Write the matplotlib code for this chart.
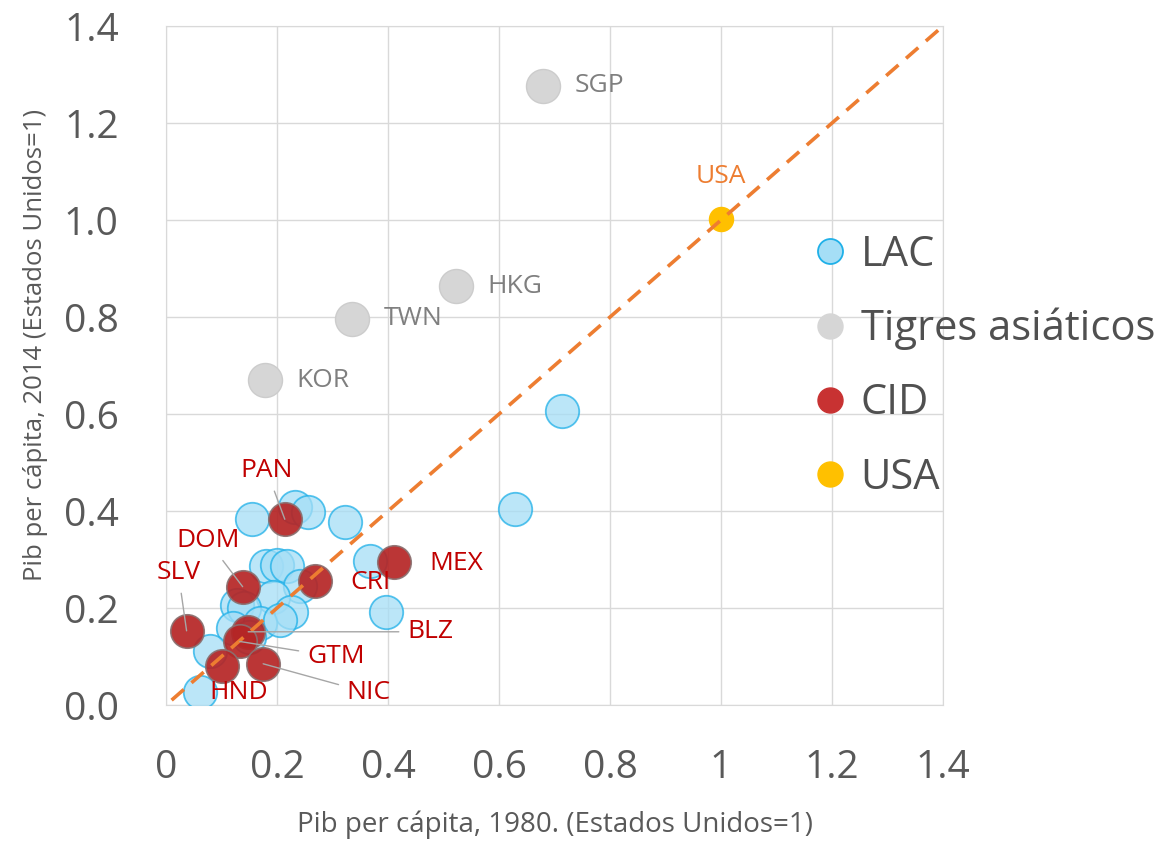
import numpy as np
import matplotlib.pyplot as plt
from matplotlib.lines import Line2D

plt.rcParams['font.family'] = ['Open Sans', 'DejaVu Sans']

# GDP per capita relative to the US, 1980 (x) vs 2014 (y)
lac_x = [0.154, 0.232, 0.256, 0.323, 0.368, 0.396, 0.714, 0.629, 0.181, 0.200,
         0.218, 0.241, 0.193, 0.127, 0.140, 0.226, 0.121, 0.170, 0.079, 0.061,
         0.150, 0.205]
lac_y = [0.383, 0.409, 0.399, 0.378, 0.296, 0.192, 0.606, 0.404, 0.287, 0.289,
         0.287, 0.245, 0.222, 0.206, 0.200, 0.192, 0.158, 0.170, 0.112, 0.027,
         0.140, 0.175]

tig_names = ['SGP', 'HKG', 'TWN', 'KOR']
tig_x = [0.679, 0.522, 0.335, 0.178]
tig_y = [1.277, 0.864, 0.796, 0.670]

cid_names = ['PAN', 'DOM', 'SLV', 'CRI', 'MEX', 'BLZ', 'GTM', 'HND', 'NIC']
cid_x = [0.214, 0.138, 0.037, 0.268, 0.411, 0.148, 0.133, 0.100, 0.175]
cid_y = [0.383, 0.244, 0.153, 0.256, 0.294, 0.151, 0.131, 0.080, 0.085]

usa_x = [1.0]
usa_y = [1.003]

line_x = [0.01, 1.4]
line_y = [0.01, 1.4]

x_ticks = [0, 0.2, 0.4, 0.6, 0.8, 1.0, 1.2, 1.4]
x_ticklabels = ['0', '0.2', '0.4', '0.6', '0.8', '1', '1.2', '1.4']
y_ticks = [0, 0.2, 0.4, 0.6, 0.8, 1.0, 1.2, 1.4]
y_ticklabels = ['0.0', '0.2', '0.4', '0.6', '0.8', '1.0', '1.2', '1.4']

# label offsets in points, and whether a leader line is drawn
cid_offsets = [(-13, 35), (-25, 33), (-6, 42), (40, -1), (45, -1),
               (131, 0), (69, -11), (12, -19), (76, -21)]
cid_leader = [True, True, True, False, False, True, True, False, True]

txt = '#595959'
grid_c = '#d9d9d9'
lac_face = '#a5def6'
lac_edge = '#1fb0e8'
tig_c = '#d6d6d6'
cid_c = '#b52525'
usa_c = '#ffc000'
orange = '#ed7d31'
red_txt = '#c00000'

fig = plt.figure(figsize=(11.58, 8.41), dpi=100)
ax = fig.add_axes([0.1434, 0.1617, 0.6709, 0.8073])

ax.scatter(lac_x, lac_y, s=580, facecolor=lac_face, edgecolor=lac_edge,
           linewidth=1.3, alpha=0.75, zorder=3)
ax.scatter(tig_x, tig_y, s=600, facecolor=tig_c, edgecolor='#cccccc',
           linewidth=1, zorder=3)
ax.scatter(cid_x, cid_y, s=580, facecolor=cid_c, edgecolor='#8a7070',
           linewidth=1.2, alpha=0.92, zorder=4)
ax.scatter(usa_x, usa_y, s=300, facecolor=usa_c, edgecolor=usa_c, zorder=4)

ax.plot(line_x, line_y, color=orange, lw=2.6, dashes=(4.5, 2.8), zorder=5)

for name, x, y in zip(tig_names, tig_x, tig_y):
    ax.annotate(name, (x, y), xytext=(23, 0), textcoords='offset points',
                ha='left', va='center', fontsize=19, color='#7f7f7f', zorder=6)

ax.annotate('USA', (usa_x[0], usa_y[0]), xytext=(0, 30), textcoords='offset points',
            ha='center', va='center', fontsize=19, color=orange, zorder=6)

for name, x, y, off, lead in zip(cid_names, cid_x, cid_y, cid_offsets, cid_leader):
    arrow = None
    if lead:
        arrow = dict(arrowstyle='-', color='#a6a6a6', lw=1, shrinkA=4, shrinkB=0)
    ax.annotate(name, (x, y), xytext=off, textcoords='offset points',
                ha='center', va='center', fontsize=19, color=red_txt,
                arrowprops=arrow, zorder=6)

ax.set_xlim(0, 1.4)
ax.set_ylim(0, 1.4)
ax.set_xticks(x_ticks)
ax.set_xticklabels(x_ticklabels)
ax.set_yticks(y_ticks)
ax.set_yticklabels(y_ticklabels)
ax.tick_params(length=0, labelsize=28, labelcolor=txt)
ax.tick_params(axis='x', pad=32)
ax.tick_params(axis='y', pad=34)
ax.grid(True, color=grid_c, lw=1)
ax.set_axisbelow(True)
for sp in ax.spines.values():
    sp.set_color(grid_c)

ax.set_xlabel('Pib per cápita, 1980. (Estados Unidos=1)', fontsize=20, color=txt)
ax.xaxis.set_label_coords(0.5, -0.155)
ax.set_ylabel('Pib per cápita, 2014 (Estados Unidos=1)', fontsize=18.5, color=txt)
ax.yaxis.set_label_coords(-0.152, 0.53)

handles = [
    Line2D([], [], ls='', marker='o', ms=18, mfc=lac_face, mec=lac_edge, mew=1.3),
    Line2D([], [], ls='', marker='o', ms=18, mfc=tig_c, mec=tig_c),
    Line2D([], [], ls='', marker='o', ms=18, mfc='#c83232', mec='#c83232'),
    Line2D([], [], ls='', marker='o', ms=18, mfc=usa_c, mec=usa_c),
]
leg = fig.legend(handles, ['LAC', 'Tigres asiáticos', 'CID', 'USA'],
                 loc='upper left', bbox_to_anchor=(0.700, 0.722),
                 frameon=False, fontsize=30, labelcolor='#505050',
                 handlelength=0.95, handletextpad=0.25, labelspacing=0.77,
                 borderpad=0, borderaxespad=0)

fig.savefig('out.png', dpi=100)
